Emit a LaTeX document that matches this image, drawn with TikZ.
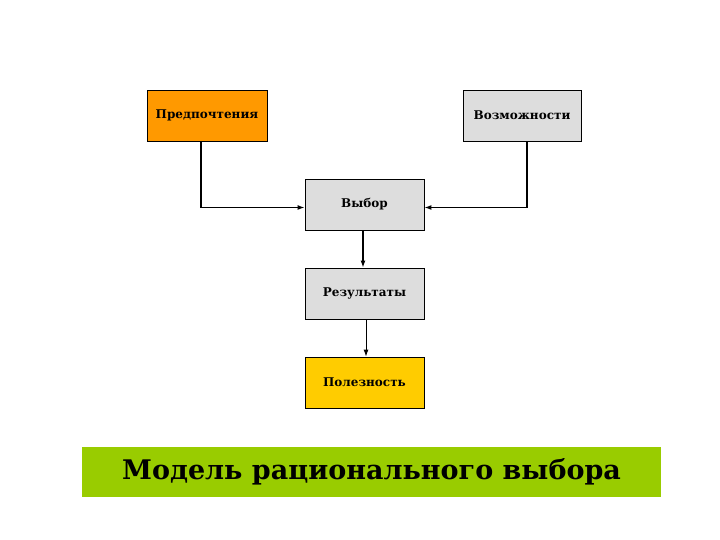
\documentclass[tikz,border=0pt]{standalone}
\usepackage{fontspec}
\setmainfont{DejaVu Serif}
\usetikzlibrary{arrows.meta}

\begin{document}
\begin{tikzpicture}[x=1pt,y=1pt,
	box/.style={draw=black,line width=0.8pt,minimum width=119pt,minimum height=51pt,inner sep=0pt,font=\fontsize{12}{14}\selectfont\bfseries},
	conn/.style={-{Latex[length=7pt,width=5pt]},line width=1.3pt}]
	%\draw[help lines] (0,0) grid (720,540);
	\useasboundingbox (0,0) rectangle (720,540);
	%BOXES
	\node[box,fill={rgb,255:red,255;green,153;blue,0},minimum width=120pt] (pref) at (207,424.5) {Предпочтения};
	\node[box,fill={rgb,255:red,221;green,221;blue,221},minimum width=118pt] (poss) at (522,424.5) {Возможности};
	\node[box,fill={rgb,255:red,221;green,221;blue,221}] (choice) at (364.5,335.5) {Выбор};
	\node[box,fill={rgb,255:red,221;green,221;blue,221}] (res) at (364.5,246.5) {Результаты};
	\node[box,fill={rgb,255:red,255;green,204;blue,0}] (util) at (364.5,157.5) {Полезность};
	
	%ARROWS
	\draw[conn] ([xshift=-6pt]pref.south) |- ([yshift=-3pt]choice.west);
	\draw[conn] ([xshift=5pt]poss.south) |- ([yshift=-3pt]choice.east);
	\draw[conn,line width=1.8pt] ([xshift=-1.5pt]choice.south) -- ([xshift=-1.5pt]res.north);
	\draw[conn,line width=0.9pt] ([xshift=1.5pt]res.south) -- ([xshift=1.5pt]util.north);
	
	%TITLE
	\node[fill={rgb,255:red,153;green,204;blue,0},minimum width=579pt,minimum height=50pt,inner sep=0pt,font=\fontsize{27}{32}\selectfont\bfseries] (title) at (371.5,68) {Модель рационального выбора};
\end{tikzpicture}
\end{document}
